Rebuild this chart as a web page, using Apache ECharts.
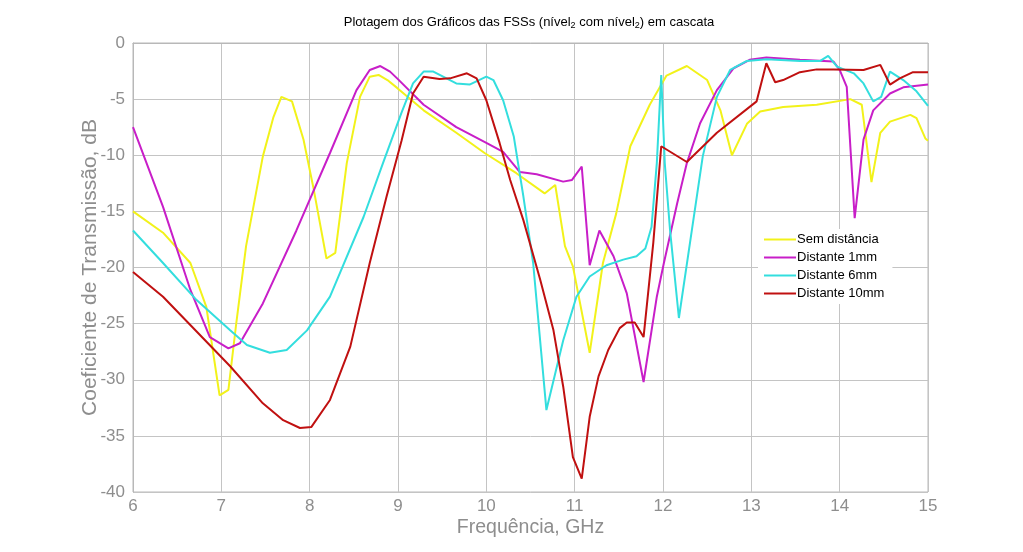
<!DOCTYPE html>
<html>
<head>
<meta charset="utf-8">
<script src="https://cdn.jsdelivr.net/npm/echarts@6/dist/echarts.min.js"></script>
<style>html,body{margin:0;padding:0;background:#fff;}#c{width:1023px;height:552px;}</style>
</head>
<body>
<div id="c"></div>
<script>
const seriesNames = ['Sem distância', 'Distante 1mm', 'Distante 6mm', 'Distante 10mm'];
const xTicks = [6, 7, 8, 9, 10, 11, 12, 13, 14, 15];
const yTicks = [0, -5, -10, -15, -20, -25, -30, -35, -40];

const semFreq = [6.0,6.34,6.65,6.83,6.98,7.08,7.17,7.28,7.47,7.59,7.68,7.80,7.93,8.04,8.19,8.29,8.42,8.57,8.68,8.78,8.88,8.99,9.29,9.66,9.98,10.34,10.66,10.78,10.89,10.98,11.17,11.32,11.47,11.63,11.85,12.04,12.27,12.50,12.65,12.78,12.95,13.10,13.36,13.74,14.12,14.25,14.36,14.46,14.57,14.80,14.87,14.97,15.0];
const semDb   = [-15.0,-16.9,-19.6,-23.5,-31.4,-30.9,-24.9,-18.1,-10.1,-6.6,-4.8,-5.2,-8.6,-12.8,-19.2,-18.7,-10.7,-4.8,-3.0,-2.85,-3.3,-4.0,-6.0,-8.0,-9.8,-11.6,-13.4,-12.65,-18.1,-19.9,-27.6,-19.6,-15.2,-9.2,-5.5,-2.9,-2.05,-3.3,-6.0,-10.0,-7.2,-6.1,-5.7,-5.5,-5.0,-5.5,-12.4,-8.0,-7.0,-6.4,-6.7,-8.5,-8.7];

const d1Freq = [6.0,6.34,6.65,6.87,7.08,7.21,7.47,7.85,8.23,8.53,8.68,8.80,8.91,8.99,9.29,9.66,10.0,10.19,10.38,10.57,10.87,10.97,11.08,11.17,11.28,11.44,11.59,11.78,11.93,12.01,12.16,12.27,12.42,12.61,12.80,12.98,13.17,13.55,13.93,14.0,14.08,14.17,14.27,14.38,14.57,14.72,15.0];
const d1Db   = [-7.5,-14.6,-22.0,-26.2,-27.2,-26.75,-23.2,-16.7,-9.8,-4.2,-2.4,-2.05,-2.55,-3.15,-5.5,-7.5,-8.9,-9.7,-11.5,-11.7,-12.35,-12.2,-11.0,-19.8,-16.7,-19.0,-22.3,-30.2,-22.6,-19.6,-14.3,-10.7,-7.15,-4.2,-2.25,-1.5,-1.3,-1.5,-1.65,-2.4,-3.9,-15.6,-8.6,-6.0,-4.5,-3.95,-3.7];

const d6Freq = [6.0,6.34,6.72,7.10,7.29,7.55,7.74,7.97,8.23,8.61,8.83,9.04,9.17,9.29,9.40,9.66,9.81,10.0,10.08,10.19,10.31,10.42,10.53,10.68,10.87,11.02,11.17,11.36,11.55,11.70,11.80,11.87,11.93,11.98,12.02,12.08,12.18,12.30,12.45,12.61,12.76,12.95,13.17,13.55,13.78,13.87,13.97,14.16,14.27,14.38,14.47,14.57,14.72,14.87,15.0];
const d6Db   = [-16.7,-19.6,-22.9,-25.6,-26.9,-27.6,-27.35,-25.6,-22.6,-15.5,-10.7,-6.2,-3.6,-2.55,-2.55,-3.6,-3.7,-3.0,-3.3,-5.1,-8.3,-13.7,-19.6,-32.7,-26.5,-22.6,-20.8,-19.8,-19.3,-19.0,-18.3,-16.4,-10.7,-2.85,-10.7,-16.7,-24.5,-18.1,-10.1,-4.8,-2.4,-1.6,-1.45,-1.6,-1.6,-1.15,-2.1,-2.7,-3.6,-5.2,-4.8,-2.55,-3.3,-4.3,-5.6];

const d10Freq = [6.0,6.34,6.72,7.10,7.47,7.70,7.89,8.02,8.23,8.46,8.68,8.87,9.04,9.17,9.29,9.47,9.59,9.78,9.89,10.0,10.15,10.27,10.42,10.61,10.76,10.87,10.98,11.08,11.17,11.27,11.38,11.51,11.59,11.68,11.78,11.89,11.98,12.27,12.61,13.06,13.17,13.27,13.36,13.55,13.74,13.93,14.27,14.46,14.57,14.68,14.83,15.0];
const d10Db   = [-20.4,-22.6,-25.7,-28.8,-32.1,-33.6,-34.3,-34.2,-31.8,-27.05,-19.6,-13.7,-8.7,-4.5,-3.0,-3.2,-3.15,-2.7,-3.15,-5.1,-8.9,-12.2,-15.8,-21.1,-25.6,-30.6,-36.9,-38.8,-33.3,-29.7,-27.35,-25.4,-24.9,-24.9,-26.2,-17.8,-9.2,-10.6,-8.0,-5.2,-1.8,-3.5,-3.3,-2.6,-2.35,-2.35,-2.4,-1.95,-3.7,-3.15,-2.6,-2.6];

const colors = ['#f2f21a', '#c81ec8', '#33dede', '#c01010'];
const pairs = (xs, ys) => xs.map((x, i) => [x, ys[i]]);
const allData = [pairs(semFreq, semDb), pairs(d1Freq, d1Db), pairs(d6Freq, d6Db), pairs(d10Freq, d10Db)];

const gray = '#8e8e8e';
const sans = "'Liberation Sans', Arial, sans-serif";

const chart = echarts.init(document.getElementById('c'), null, {renderer: 'canvas'});
chart.setOption({
  backgroundColor: '#fff',
  animation: false,
  title: {
    text: '{a|Plotagem dos Gráficos das FSSs (nível}{s|2}{a| com nível}{s|2}{a|) em cascata}',
    left: 524, textAlign: 'center', top: 9,
    textStyle: {
      fontWeight: 'normal',
      rich: {
        a: {fontFamily: sans, fontSize: 13, fontWeight: 'normal', color: '#000', lineHeight: 16},
        s: {fontFamily: sans, fontSize: 9, fontWeight: 'normal', color: '#000', verticalAlign: 'bottom', padding: [9, 0, 0, 0], lineHeight: 16}
      }
    }
  },
  grid: {left: 133, right: 95, top: 43, bottom: 60, show: true, borderColor: '#b8b8b8', borderWidth: 1, containLabel: false},
  legend: {
    orient: 'vertical', left: 758, top: 229,
    backgroundColor: '#fff', padding: [4, 8, 4, 6],
    icon: 'rect', itemWidth: 32, itemHeight: 2, itemGap: 5,
    data: seriesNames,
    textStyle: {fontFamily: sans, fontSize: 13, color: '#000', padding: [0, 0, 0, -4]}
  },
  xAxis: {
    type: 'value', min: xTicks[0], max: xTicks[xTicks.length - 1], interval: 1,
    name: 'Frequência, GHz', nameLocation: 'middle', nameGap: 26, nameMoveOverlap: false,
    nameTextStyle: {fontFamily: sans, fontSize: 19.5, fontWeight: 'normal', color: gray},
    axisLine: {show: true, lineStyle: {color: '#b8b8b8'}},
    axisTick: {show: false},
    axisLabel: {fontFamily: sans, fontSize: 17, color: gray, margin: 6},
    splitLine: {show: true, lineStyle: {color: '#c4c4c4', width: 1}}
  },
  yAxis: {
    type: 'value', min: yTicks[yTicks.length - 1], max: yTicks[0], interval: 5,
    name: 'Coeficiente de Transmissão, dB', nameLocation: 'middle', nameGap: 32, nameMoveOverlap: false,
    nameTextStyle: {fontFamily: sans, fontSize: 21, fontWeight: 'normal', color: gray},
    axisLine: {show: true, lineStyle: {color: '#b8b8b8'}},
    axisTick: {show: false},
    axisLabel: {fontFamily: sans, fontSize: 17, color: gray, margin: 8},
    splitLine: {show: true, lineStyle: {color: '#c4c4c4', width: 1}}
  },
  series: seriesNames.map((n, i) => ({
    name: n, type: 'line', data: allData[i], symbol: 'none', smooth: false,
    lineStyle: {color: colors[i], width: 2}, itemStyle: {color: colors[i]}
  }))
});
</script>
</body>
</html>
